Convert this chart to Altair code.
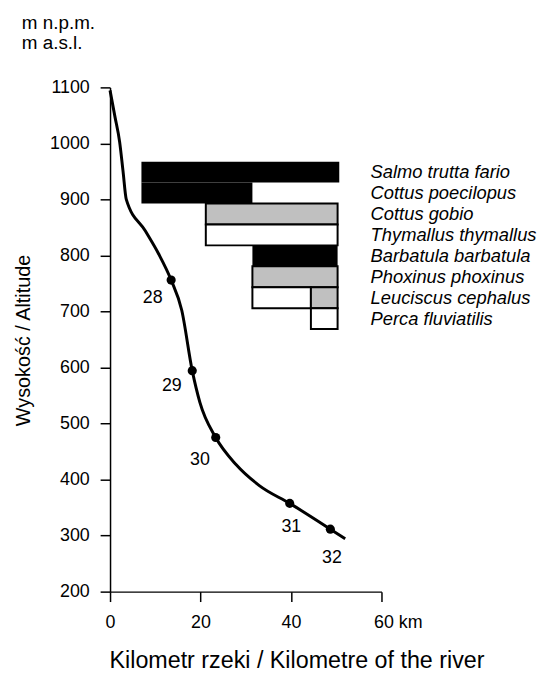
import altair as alt
import pandas as pd

# River longitudinal profile (km from source, altitude m a.s.l.)
profile_km = [0.0, 1.06, 2.12, 2.86, 3.59, 7.82, 10.73, 13.51, 15.85, 18.17, 19.86, 23.36, 27.9, 33.0, 39.72, 48.70, 51.98]
profile_alt = [1094.7, 1048.7, 1002.8, 951.5, 900.2, 843.6, 803.0, 756.1, 702.2, 594.4, 537.8, 475.0, 426.4, 389.3, 357.5, 311.5, 294.3]

# Sampling sites
site_ids = ["28", "29", "30", "31", "32"]
site_km = [13.51, 18.17, 23.36, 39.72, 48.70]
site_alt = [756.1, 594.4, 475.0, 357.5, 311.5]
site_label_km = [9.42, 13.66, 19.86, 40.07, 49.05]
site_label_alt = [724.6, 566.1, 434.0, 314.4, 260.2]

# Fish species ranges along the river
species = ["Salmo trutta fario", "Cottus poecilopus", "Cottus gobio", "Thymallus thymallus",
           "Barbatula barbatula", "Phoxinus phoxinus", "Leuciscus cephalus", "Perca fluviatilis"]
seg_row = [0, 1, 2, 3, 4, 5, 6, 6, 7]
seg_start = [6.94, 6.94, 21.17, 21.17, 31.47, 31.47, 31.47, 44.4, 44.4]
seg_end = [50.67, 31.47, 50.3, 50.3, 50.3, 50.3, 44.4, 50.3, 50.3]
seg_class = ["black", "black", "gray", "white", "black", "gray", "white", "gray", "white"]

# row placement in altitude units (top of first row, row height)
ROW_TOP = 967.4
ROW_STEP = 37.35
LABEL_KM = 57.6

FONT = "Liberation Sans"

profile = pd.DataFrame({"km": profile_km, "alt": profile_alt})
sites = pd.DataFrame({"site": site_ids, "km": site_km, "alt": site_alt,
                      "lkm": site_label_km, "lalt": site_label_alt})
segs = pd.DataFrame({"row": seg_row, "start": seg_start, "end": seg_end, "cls": seg_class})
segs["top"] = ROW_TOP - segs["row"] * ROW_STEP
segs["bottom"] = segs["top"] - ROW_STEP
labels = pd.DataFrame({"species": species, "row": list(range(len(species)))})
labels["alt"] = ROW_TOP - (labels["row"] + 0.5) * ROW_STEP
labels["km"] = LABEL_KM

x_scale = alt.Scale(domain=[0, 60], nice=False, zero=False)
y_scale = alt.Scale(domain=[200, 1100], nice=False, zero=False)

x_axis = alt.Axis(
    values=[0, 20, 40, 60], title="Kilometr rzeki / Kilometre of the river",
    labelExpr="datum.value == 60 ? '60 km' : datum.label",
    labelAlign={"condition": {"test": "datum.value == 60", "value": "left"}, "value": "center"},
    labelOffset={"condition": {"test": "datum.value == 60", "value": -8}, "value": 0},
    labelFlush=False, labelOverlap=False, labelFontSize=18, labelPadding=12,
    tickSize=10, tickWidth=1.5, domainWidth=1.5, grid=False,
    titleFontSize=23.5, titleFontWeight="normal", titleAlign="left", titleBaseline="alphabetic",
    titleX=-1, titleY=77,
)
y_axis = alt.Axis(
    values=[200, 300, 400, 500, 600, 700, 800, 900, 1000, 1100], title="Wysokość / Altitude",
    format="d",
    labelFlush=False, labelOverlap=False, labelFontSize=18, labelPadding=11,
    tickSize=10, tickWidth=1.5, domainWidth=1.5, grid=False,
    titleFontSize=20, titleFontWeight="normal", titleAlign="center", titleBaseline="alphabetic",
    titleX=-81, titleY=255, titleAngle=-90,
)

line = alt.Chart(profile).mark_line(color="black", strokeWidth=3, interpolate="monotone").encode(
    x=alt.X("km:Q", scale=x_scale, axis=x_axis),
    y=alt.Y("alt:Q", scale=y_scale, axis=y_axis),
)
points = alt.Chart(sites).mark_circle(color="black", size=85, opacity=1).encode(
    x=alt.X("km:Q", scale=x_scale), y=alt.Y("alt:Q", scale=y_scale))
site_text = alt.Chart(sites).mark_text(fontSize=18, align="center", baseline="middle", color="black").encode(
    x=alt.X("lkm:Q", scale=x_scale), y=alt.Y("lalt:Q", scale=y_scale), text="site:N")

bars = alt.Chart(segs).mark_rect(stroke="black", strokeJoin="miter").encode(
    x=alt.X("start:Q", scale=x_scale), x2="end:Q",
    y=alt.Y("top:Q", scale=y_scale), y2="bottom:Q",
    fill=alt.Fill("cls:N", scale=alt.Scale(domain=["black", "gray", "white"],
                                           range=["#000000", "#c0c0c0", "#ffffff"]), legend=None),
    strokeWidth=alt.condition("datum.cls == 'black'", alt.value(0), alt.value(2)),
)
species_text = alt.Chart(labels).mark_text(fontSize=18.5, fontStyle="italic", align="left",
                                           baseline="middle", color="black").encode(
    x=alt.X("km:Q", scale=x_scale), y=alt.Y("alt:Q", scale=y_scale), text="species:N")

chart = alt.layer(bars, line, points, site_text, species_text).properties(
    width=274, height=509,
    autosize=alt.AutoSizeParams(type="none"),
    padding={"left": 103, "top": 77, "right": 158, "bottom": 79},
    title=alt.TitleParams(["m n.p.m.", "m a.s.l."], anchor="start", frame="group", fontSize=19,
                          fontWeight="normal", font=FONT, lineHeight=20, dx=-89, offset=26,
                          color="black"),
).configure(font=FONT).configure_view(stroke=None).configure_axis(
    domainColor="black", tickColor="black", labelColor="black", titleColor="black",
    labelFont=FONT, titleFont=FONT)

chart.save("out.html", embed_options={"renderer": "svg", "actions": False})
